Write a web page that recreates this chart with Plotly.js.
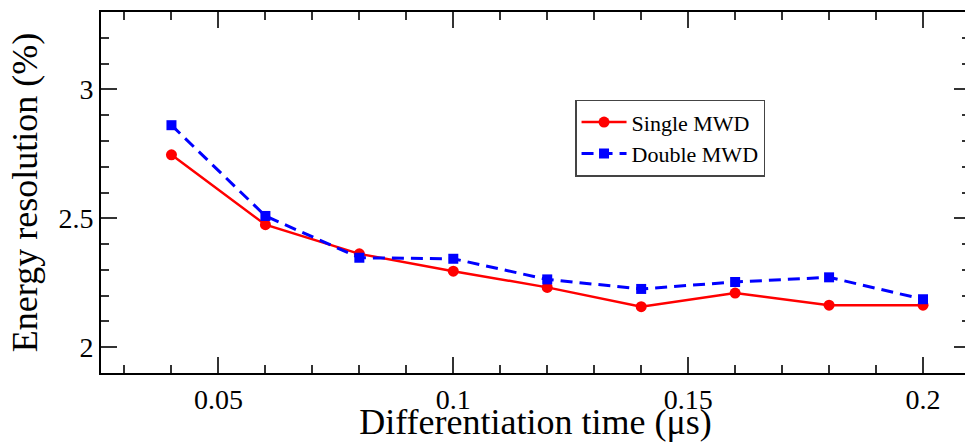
<!DOCTYPE html>
<html>
<head>
<meta charset="utf-8">
<script src="https://cdn.plot.ly/plotly-3.0.1.min.js"></script>
<style>
html,body{margin:0;padding:0;overflow:hidden;background:#fff;}
#chart{width:975px;height:442px;}
</style>
</head>
<body>
<div id="chart"></div>
<script>
const diffTime = [0.04, 0.06, 0.08, 0.10, 0.12, 0.14, 0.16, 0.18, 0.20];
const singleMWD = [2.746, 2.475, 2.362, 2.295, 2.232, 2.157, 2.210, 2.163, 2.163];
const doubleMWD = [2.861, 2.509, 2.347, 2.343, 2.263, 2.226, 2.253, 2.271, 2.186];
const seriesNames = ["Single MWD", "Double MWD"];
const xTitle = "Differentiation time (\u03bcs)";
const yTitle = "Energy resolution (%)";

const FONT = "Liberation Serif";

const traces = [
  {
    x: diffTime, y: singleMWD, name: seriesNames[0], type: "scatter", mode: "lines+markers",
    line: {color: "#ff0000", width: 2.5},
    marker: {color: "#ff0000", symbol: "circle", size: 11}
  },
  {
    x: diffTime, y: doubleMWD, name: seriesNames[1], type: "scatter", mode: "lines+markers",
    line: {color: "#0000ff", width: 3, dash: "12px,7px"},
    marker: {color: "#0000ff", symbol: "square", size: 10}
  }
];

const axisCommon = {
  showgrid: false, zeroline: false,
  showline: true, linecolor: "#000", linewidth: 2,
  mirror: "allticks", ticks: "inside", ticklen: 16, tickwidth: 2, tickcolor: "#333",
  tickfont: {family: FONT, size: 28, color: "#000"}
};

const layout = {
  width: 975, height: 442,
  margin: {l: 101, r: 5, t: 12, b: 69},
  paper_bgcolor: "#fff", plot_bgcolor: "#fff",
  font: {family: FONT, color: "#000"},
  showlegend: true,
  legend: {
    x: 0.5455, y: 0.757, xanchor: "left", yanchor: "top",
    bgcolor: "#fff", bordercolor: "#444", borderwidth: 1.5,
    font: {family: FONT, size: 22, color: "#000"},
    itemwidth: 45,
    tracegroupgap: 0
  },
  xaxis: Object.assign({}, axisCommon, {
    range: [0.025, 0.21], dtick: 0.05, tick0: 0,
    minor: {dtick: 0.01, ticks: "inside", ticklen: 8, tickwidth: 2, tickcolor: "#333"},
    title: {text: xTitle, font: {family: FONT, size: 36, color: "#000"}, standoff: 3}
  }),
  yaxis: Object.assign({}, axisCommon, {
    range: [1.9, 3.3], dtick: 0.5, tick0: 0,
    minor: {dtick: 0.1, ticks: "inside", ticklen: 8, tickwidth: 2, tickcolor: "#333"},
    title: {text: yTitle, font: {family: FONT, size: 36, color: "#000"}, standoff: 10}
  })
};

Plotly.newPlot("chart", traces, layout, {displayModeBar: false, responsive: false});
</script>
</body>
</html>
